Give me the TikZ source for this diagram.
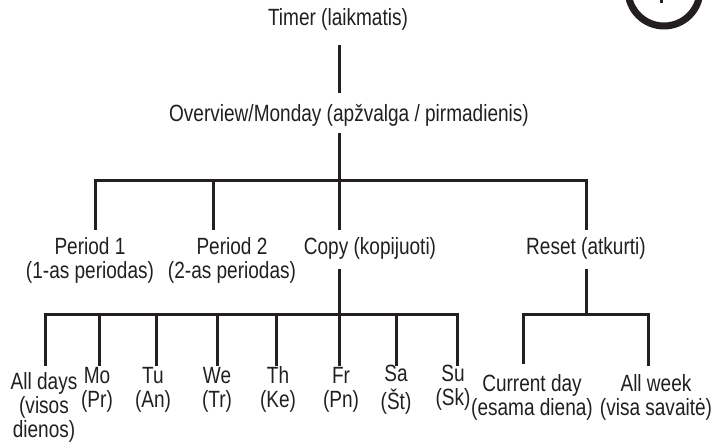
\documentclass[tikz,border=0pt]{standalone}
\usepackage{fontspec}
\setmainfont{Liberation Sans}[FakeStretch=0.81]
\definecolor{ink}{HTML}{231F20}
\newcommand\twol[2]{\begin{tabular}[t]{@{}c@{}}#1\\#2\end{tabular}}
\newcommand\threel[3]{\begin{tabular}[t]{@{}c@{}}#1\\#2\\#3\end{tabular}}
\begin{document}
\begin{tikzpicture}[x=1pt,y=-1pt,
  lbl/.style={anchor=base, inner sep=0pt, text=ink, font=\fontsize{23.5}{23}\selectfont},
  link/.style={draw=ink, line width=3pt},
]
\useasboundingbox (0,0) rectangle (715,443);
% labels
\node[lbl] (timer) at (338,26) {Timer (laikmatis)};
\node[lbl] (ov) at (349,122) {Overview/Monday (apžvalga / pirmadienis)};
\node[lbl] (p1) at (90,255) {\twol{Period 1}{(1-as periodas)}};
\node[lbl] (p2) at (232,255) {\twol{Period 2}{(2-as periodas)}};
\node[lbl] (copy) at (370,255) {Copy (kopijuoti)};
\node[lbl] (reset) at (586,255) {Reset (atkurti)};
\node[lbl] (alld) at (44,390) {\threel{All days}{(visos}{dienos)}};
\node[lbl] (mo) at (97,384) {\twol{Mo}{(Pr)}};
\node[lbl] (tu) at (153,384) {\twol{Tu}{(An)}};
\node[lbl] (we) at (217,384) {\twol{We}{(Tr)}};
\node[lbl] (th) at (278,384) {\twol{Th}{(Ke)}};
\node[lbl] (fr) at (341,384) {\twol{Fr}{(Pn)}};
\node[lbl] (sa) at (396,382) {\twol{Sa}{(Št)}};
\node[lbl] (su) at (453,382) {\twol{Su}{(Sk)}};
\node[lbl] (cur) at (532,392) {\twol{Current day}{(esama diena)}};
\node[lbl] (allw) at (656,392) {\twol{All week}{(visa savaitė)}};
% connector end points
\coordinate (tA) at (339,45);
\coordinate (tB) at (339,93);
\coordinate (oA) at (339,133);
\coordinate (oB) at (339,181);
\coordinate (p1top) at (95,181);
\coordinate (p1end) at (95,230);
\coordinate (p2top) at (213,181);
\coordinate (p2end) at (213,230);
\coordinate (cend) at (339,230);
\coordinate (rtop) at (586,181);
\coordinate (rend) at (586,230);
\coordinate (cA) at (339,269);
\coordinate (cB) at (339,315);
\coordinate (rA) at (586,269);
\coordinate (rB) at (586,315);
% connectors
\draw[link] (tA) -- (tB);
\draw[link] (oA) -- (oB);
\draw[link] (p1end) -- (p1top) -- (rtop) -- (rend);
\draw[link] (p2top) -- (p2end);
\draw[link] (oB) -- (cend);
\draw[link] (cA) -- (cB);
\draw[link] (rA) -- (rB);
% copy sub-tree
\foreach \n/\x/\e in {alld/45/366, mo/99/366, tu/156/366, we/217/366, th/276/366, fr/339/366, sa/396/366, su/457/366}{
  \coordinate (\n-top) at (\x,315);
  \coordinate (\n-end) at (\x,\e);
}
\draw[link] (alld-end) -- (alld-top) -- (su-top) -- (su-end);
\foreach \n in {mo,tu,we,th,fr,sa}{\draw[link] (\n-top) -- (\n-end);}
% reset sub-tree
\coordinate (cur-top) at (523,315);
\coordinate (cur-end) at (523,364);
\coordinate (allw-top) at (648,315);
\coordinate (allw-end) at (648,366);
\draw[link] (cur-end) -- (cur-top) -- (allw-top) -- (allw-end);
% cropped circle badge
\coordinate (badge) at (664,-10);
\draw[ink, line width=7pt] (badge) circle (36);
\coordinate (tickA) at (661,-1);
\coordinate (tickB) at (661,3);
\draw[ink, line width=3pt] (tickA) -- (tickB);
\end{tikzpicture}
\end{document}
